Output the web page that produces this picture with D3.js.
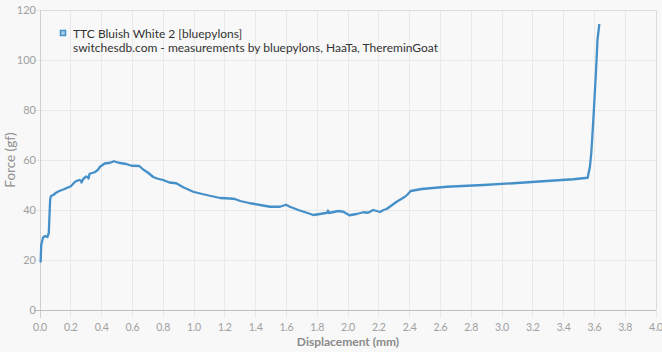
<!DOCTYPE html>
<html>
<head>
<meta charset="utf-8">
<script src="https://cdn.jsdelivr.net/npm/d3@7"></script>
<style>
  html, body { margin: 0; padding: 0; background: #f8f8f8; }
  svg { display: block; font-family: Lato, "Open Sans", sans-serif; }
</style>
</head>
<body>
<svg id="chart" width="662" height="352"></svg>
<script>
// Force curve
const seriesName = "TTC Bluish White 2 [bluepylons]";
const sourceNote = "switchesdb.com - measurements by bluepylons, HaaTa, ThereminGoat";

const displacement = [
  0.004, 0.008, 0.02, 0.034, 0.048, 0.057, 0.063, 0.066, 0.071, 0.086,
  0.104, 0.125, 0.155, 0.17, 0.2, 0.22, 0.23, 0.255, 0.265, 0.27,
  0.28, 0.30, 0.31, 0.315, 0.322, 0.355, 0.375, 0.39, 0.42, 0.455,
  0.48, 0.51, 0.56, 0.595, 0.645, 0.67, 0.70, 0.735, 0.765, 0.80,
  0.84, 0.885, 0.93, 0.995, 1.06, 1.11, 1.17, 1.234, 1.266, 1.30,
  1.364, 1.43, 1.494, 1.558, 1.597, 1.623, 1.677, 1.732, 1.775, 1.818,
  1.865, 1.87, 1.875, 1.937, 1.97, 2.009, 2.056, 2.10, 2.13, 2.164,
  2.208, 2.23, 2.251, 2.316, 2.37, 2.383, 2.407, 2.478, 2.641, 2.879,
  3.074, 3.29, 3.463, 3.556, 3.571, 3.58, 3.593, 3.61, 3.62, 3.632
];
const force = [
  19.0, 26.0, 29.0, 29.6, 29.2, 30.8, 40.0, 44.2, 45.6, 46.0,
  46.9, 47.6, 48.3, 48.7, 49.5, 50.8, 51.4, 52.0, 51.8, 51.0,
  52.4, 53.4, 53.2, 52.6, 54.5, 55.1, 56.0, 57.3, 58.6, 58.9,
  59.5, 58.9, 58.4, 57.7, 57.6, 56.2, 55.0, 53.2, 52.5, 52.0,
  51.0, 50.7, 49.1, 47.3, 46.3, 45.6, 44.8, 44.6, 44.4, 43.6,
  42.7, 42.0, 41.3, 41.3, 42.1, 41.3, 40.0, 38.9, 38.0, 38.4,
  38.9, 39.8, 38.8, 39.6, 39.3, 37.9, 38.4, 39.1, 38.9, 40.0,
  39.2, 40.0, 40.4, 43.3, 45.3, 46.0, 47.6, 48.4, 49.3, 50.0,
  50.7, 51.6, 52.3, 52.9, 57.3, 63.0, 76.0, 95.0, 108.0, 114.4
];

const xTicks = d3.range(0, 4.01, 0.2);
const yTicks = [0, 20, 40, 60, 80, 100, 120];

const lineColor = "#4590c8";

const svg = d3.select("#chart");
const plotL = 40, plotR = 656, plotT = 10, plotB = 310;

const x = d3.scaleLinear().domain([0, 4]).range([plotL, plotR]);
const y = d3.scaleLinear().domain([0, 120]).range([plotB, plotT]);

// grid
const grid = svg.append("g");
grid.selectAll(".vg").data(xTicks).enter().append("line")
  .attr("x1", d => x(d)).attr("x2", d => x(d))
  .attr("y1", plotT).attr("y2", plotB + 8)
  .attr("stroke", "#e9e9e9").attr("shape-rendering", "crispEdges");
grid.selectAll(".hg").data(yTicks).enter().append("line")
  .attr("x1", plotL - 6).attr("x2", plotR)
  .attr("y1", d => y(d)).attr("y2", d => y(d))
  .attr("stroke", "#e9e9e9").attr("shape-rendering", "crispEdges");

// frame
svg.append("line").attr("x1", plotL).attr("x2", plotR).attr("y1", plotT).attr("y2", plotT)
  .attr("stroke", "#dcdcdc").attr("shape-rendering", "crispEdges");
svg.append("line").attr("x1", plotR).attr("x2", plotR).attr("y1", plotT).attr("y2", plotB)
  .attr("stroke", "#dcdcdc").attr("shape-rendering", "crispEdges");
svg.append("line").attr("x1", plotL).attr("x2", plotL).attr("y1", plotT).attr("y2", plotB + 8)
  .attr("stroke", "#cfcfcf").attr("shape-rendering", "crispEdges");
svg.append("line").attr("x1", plotL - 6).attr("x2", plotR).attr("y1", plotB).attr("y2", plotB)
  .attr("stroke", "#bdbdbd").attr("shape-rendering", "crispEdges");

// tick labels
svg.append("g").selectAll("text").data(xTicks).enter().append("text")
  .attr("x", d => x(d)).attr("y", 331)
  .attr("text-anchor", "middle")
  .attr("font-size", 10.5).attr("letter-spacing", -0.3).attr("fill", "#a0a0a0")
  .text(d => d3.format(".1f")(d));
svg.append("g").selectAll("text").data(yTicks).enter().append("text")
  .attr("x", 36).attr("y", d => y(d) + 4)
  .attr("text-anchor", "end")
  .attr("font-size", 11).attr("fill", "#a0a0a0")
  .text(d => d);

// axis titles
svg.append("text")
  .attr("x", (plotL + plotR) / 2).attr("y", 346)
  .attr("text-anchor", "middle")
  .attr("font-size", 12).attr("font-weight", "bold").attr("fill", "#8a8a8a")
  .text("Displacement (mm)");
svg.append("text")
  .attr("transform", `translate(15,${(plotT + plotB) / 2}) rotate(-90)`)
  .attr("text-anchor", "middle")
  .attr("font-size", 13.5).attr("fill", "#8f8f8f")
  .text("Force (gf)");

// curve
const points = displacement.map((d, i) => [d, force[i]]);
const line = d3.line().x(d => x(d[0])).y(d => y(d[1]));
svg.append("path").datum(points)
  .attr("d", line)
  .attr("fill", "none")
  .attr("stroke", lineColor)
  .attr("stroke-width", 2.3)
  .attr("stroke-linejoin", "round");

// legend
svg.append("rect")
  .attr("x", 60.5).attr("y", 30.5).attr("width", 5).attr("height", 5)
  .attr("fill", "#a8cbe6").attr("stroke", lineColor).attr("stroke-width", 1.5);
svg.append("text").attr("x", 73).attr("y", 38)
  .attr("font-size", 12).attr("fill", "#333")
  .text(seriesName);
svg.append("text").attr("x", 73).attr("y", 52)
  .attr("font-size", 12).attr("fill", "#333")
  .text(sourceNote);
</script>
</body>
</html>
